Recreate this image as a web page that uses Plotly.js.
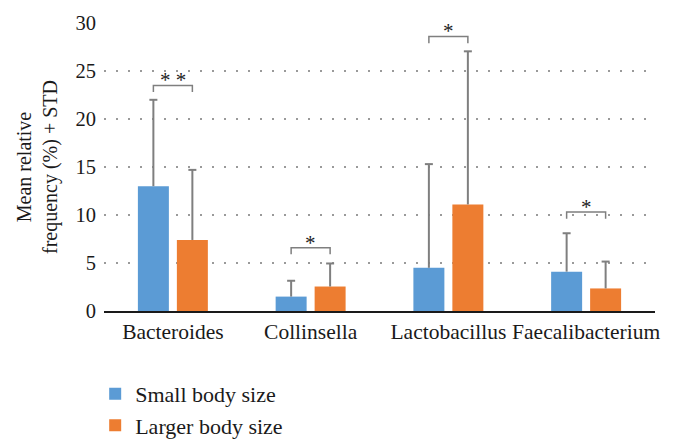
<!DOCTYPE html>
<html>
<head>
<meta charset="utf-8">
<script src="https://cdn.plot.ly/plotly-3.0.1.min.js"></script>
<style>html,body{margin:0;padding:0;background:#fff;}#chart{width:686px;height:446px;}</style>
</head>
<body>
<div id="chart"></div>
<script>
const categories = ["Bacteroides", "Collinsella", "Lactobacillus", "Faecalibacterium"];
const seriesNames = ["Small body size", "Larger body size"];
const smallMean = [13.0, 1.5, 4.5, 4.1];
const smallStd = [9.0, 1.65, 10.8, 4.0];
const largeMean = [7.4, 2.55, 11.1, 2.35];
const largeStd = [7.3, 2.4, 15.95, 2.8];
const sigLabels = ["* *", "*", "*", "*"];
const sigLevels = [23.5, 6.6, 28.6, 10.3];
const yTicks = [0, 5, 10, 15, 20, 25, 30];

const FONT = "Liberation Serif, Times New Roman, serif";
const BARGAP = 0.434, BARGROUPGAP = 0.205;
const ERRCOLOR = "#7f7f7f";

const traces = [
  {type: "bar", name: seriesNames[0], x: categories, y: smallMean, marker: {color: "#5b9bd5"}},
  {type: "bar", name: seriesNames[1], x: categories, y: largeMean, marker: {color: "#ed7d31"}}
];

const off = (1 - BARGAP) / 4;
const shapes = [];
const annotations = [];

// one-sided (upper) error bars, positioned on each bar's center through the axes
[[smallMean, smallStd, -off], [largeMean, largeStd, off]].forEach(([means, stds, dx]) => {
  means.forEach((m, i) => {
    const top = m + stds[i];
    shapes.push({type: "line", xref: "x", yref: "y", x0: i + dx, x1: i + dx, y0: m, y1: top,
      line: {color: ERRCOLOR, width: 2}});
    shapes.push({type: "line", xref: "x", yref: "y", xsizemode: "pixel", xanchor: i + dx,
      x0: -4, x1: 4, y0: top, y1: top, line: {color: ERRCOLOR, width: 2}});
  });
});

categories.forEach((c, i) => {
  const y = sigLevels[i];
  const x0 = i - off, x1 = i + off, leg = 0.7;
  shapes.push({type: "path", xref: "x", yref: "y",
    path: `M${x0},${y - leg} L${x0},${y} L${x1},${y} L${x1},${y - leg}`,
    line: {color: ERRCOLOR, width: 1.5}});
  annotations.push({x: i, y: y, xref: "x", yref: "y", text: sigLabels[i],
    showarrow: false, yanchor: "bottom", yshift: -9,
    font: {family: FONT, size: 21, color: "#222"}});
});

const layout = {
  width: 686, height: 446,
  margin: {l: 104, r: 31, t: 23, b: 135, autoexpand: false},
  paper_bgcolor: "#fff", plot_bgcolor: "#fff",
  barmode: "group", bargap: BARGAP, bargroupgap: BARGROUPGAP,
  font: {family: FONT, size: 20, color: "#1a1a1a"},
  showlegend: true,
  legend: {x: -0.016, xanchor: "left", y: -0.215, yanchor: "top",
    orientation: "v", font: {family: FONT, size: 22, color: "#1a1a1a"},
    bgcolor: "rgba(0,0,0,0)", tracegroupgap: 0},
  xaxis: {type: "category", range: [-0.5, 3.5], showline: true, linecolor: "#1a1a1a",
    linewidth: 1.5, ticks: "", showgrid: false, zeroline: false, ticklabelstandoff: 1,
    tickfont: {family: FONT, size: 21.5, color: "#1a1a1a"}, automargin: false},
  yaxis: {range: [0, 30], tickvals: yTicks, ticktext: yTicks.map(String),
    showline: false, zeroline: false, ticks: "", ticklabelstandoff: 7,
    showgrid: true, gridcolor: "#9a9a9a", gridwidth: 1.5, griddash: "2px,10px",
    tickfont: {family: FONT, size: 20.5, color: "#1a1a1a"}, automargin: false,
    title: {text: "Mean relative<br>frequency (%) + STD", standoff: 12,
      font: {family: FONT, size: 20, color: "#1a1a1a"}}},
  shapes: shapes,
  annotations: annotations
};

Plotly.newPlot("chart", traces, layout, {displayModeBar: false, staticPlot: true});
</script>
</body>
</html>
